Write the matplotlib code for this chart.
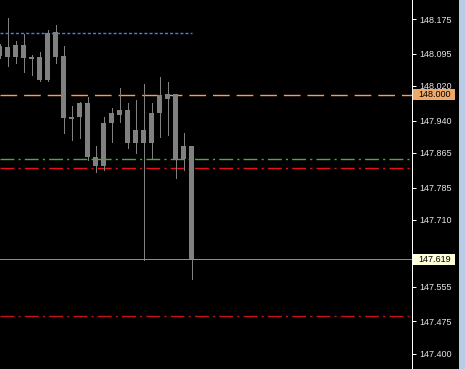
import matplotlib
matplotlib.use("Agg")
import matplotlib.pyplot as plt
import matplotlib.transforms as mtransforms
from matplotlib.patches import Rectangle

# candle data, one entry per bar
opens = [148.113, 148.110, 148.087, 148.085, 148.087, 148.087, 148.034, 148.145,
         148.089, 147.944, 147.948, 147.981, 147.856, 147.835, 147.934, 147.953,
         147.964, 147.918, 147.888, 147.888, 147.957, 147.990, 148.001, 147.851,
         147.881]
highs = [148.117, 148.177, 148.124, 148.140, 148.092, 148.099, 148.150, 148.161,
         148.113, 147.974, 147.983, 147.994, 147.881, 147.948, 147.969, 148.015,
         147.981, 147.988, 148.025, 147.981, 148.041, 148.029, 147.992, 147.911,
         147.881]
lows = [148.085, 148.066, 148.073, 148.052, 148.045, 148.032, 148.032, 148.073,
        147.911, 147.895, 147.900, 147.849, 147.821, 147.826, 147.890, 147.937,
        147.876, 147.865, 147.617, 147.853, 147.902, 147.907, 147.807, 147.826,
        147.573]
closes = [148.089, 148.087, 148.115, 148.115, 148.082, 148.034, 148.143, 148.087,
          147.946, 147.948, 147.981, 147.856, 147.835, 147.934, 147.957, 147.964,
          147.888, 147.888, 147.918, 147.957, 147.999, 148.001, 147.851, 147.881,
          147.619]

# horizontal levels
blue_level = 148.143
orange_level = 148.000
green_level = 147.851
red_level_1 = 147.830
red_level_2 = 147.488
bid_price = 147.619

tick_values = [148.175, 148.095, 148.020, 147.940, 147.865, 147.785,
               147.710, 147.555, 147.475, 147.400]
tick_labels = ["148.175", "148.095", "148.020", "147.940", "147.865", "147.785",
               "147.710", "147.555", "147.475", "147.400"]

candle_color = "#808080"
px = 0.72  # one pixel in points at dpi 100
lvl_w = 1.0  # level lines a bit wider so their colour shows

fig = plt.figure(figsize=(4.65, 3.69), dpi=100)
fig.patch.set_facecolor("black")
ax = fig.add_axes([0, 0, 412 / 465, 1])
ax.set_facecolor("black")

xs = list(range(len(opens)))
for x, o, h, l, c in zip(xs, opens, highs, lows, closes):
    ax.vlines(x, l, h, color=candle_color, lw=px, antialiased=False, zorder=3)
    bottom = min(o, c)
    height = max(abs(c - o), 0.003)
    ax.bar(x, height, bottom=bottom, width=0.7, color=candle_color,
           linewidth=0, zorder=4)

# level lines
ax.hlines(blue_level, 0, 24, color="#4a80e0", lw=lvl_w,
          linestyles=[(0, (2.2, 1.5))], zorder=2)
ax.axhline(orange_level, color="#ff9a55", lw=lvl_w,
           linestyle=(0, (12, 5)), zorder=2)
ax.axhline(green_level, color="#40b040", lw=lvl_w,
           linestyle=(0, (10, 3, 1.5, 3)), zorder=2)
ax.axhline(red_level_1, color="#e8101e", lw=lvl_w,
           linestyle=(0, (10, 3, 1.5, 3)), zorder=2)
ax.axhline(red_level_2, color="#c81018", lw=lvl_w,
           linestyle=(0, (10, 3, 1.5, 3)), zorder=2)
ax.axhline(bid_price, color="#8c8c8c", lw=px, antialiased=False, zorder=5)

ax.set_xlim(0.0625, 51.5625)
ax.set_ylim(147.365, 148.219)

# price axis on the right
ax.yaxis.tick_right()
ax.set_yticks(tick_values)
ax.set_yticklabels(tick_labels)
ax.tick_params(axis="y", colors="white", labelcolor="#e6e6e6", length=3,
               width=px, pad=2.2, labelsize=6.5)
for lab in ax.get_yticklabels():
    lab.set_family("Liberation Sans")
ax.set_xticks([])
for side in ["top", "left", "bottom"]:
    ax.spines[side].set_visible(False)
ax.spines["right"].set_color("white")
ax.spines["right"].set_linewidth(px)

# price boxes on the axis
trans = mtransforms.blended_transform_factory(ax.transAxes, ax.transData)
box_h = 11 / 432
for level, face in [(orange_level, "#f0a868"), (bid_price, "#ffffd8")]:
    ax.add_patch(Rectangle((1.0025, level - box_h / 2), 42 / 412, box_h,
                           transform=trans, facecolor=face, edgecolor="none",
                           clip_on=False, zorder=10))
    ax.text(418 / 412, level, f"{level:.3f}", transform=trans, ha="left",
            va="center", fontsize=6.5, family="Liberation Sans", color="black",
            zorder=11, clip_on=False)

# light strip at the right edge of the window
fig.patches.append(Rectangle((459 / 465, 0), 6 / 465, 1,
                             transform=fig.transFigure, facecolor="#b8cce8",
                             edgecolor="none", zorder=0))

fig.savefig("out.png", dpi=100, facecolor="black")
